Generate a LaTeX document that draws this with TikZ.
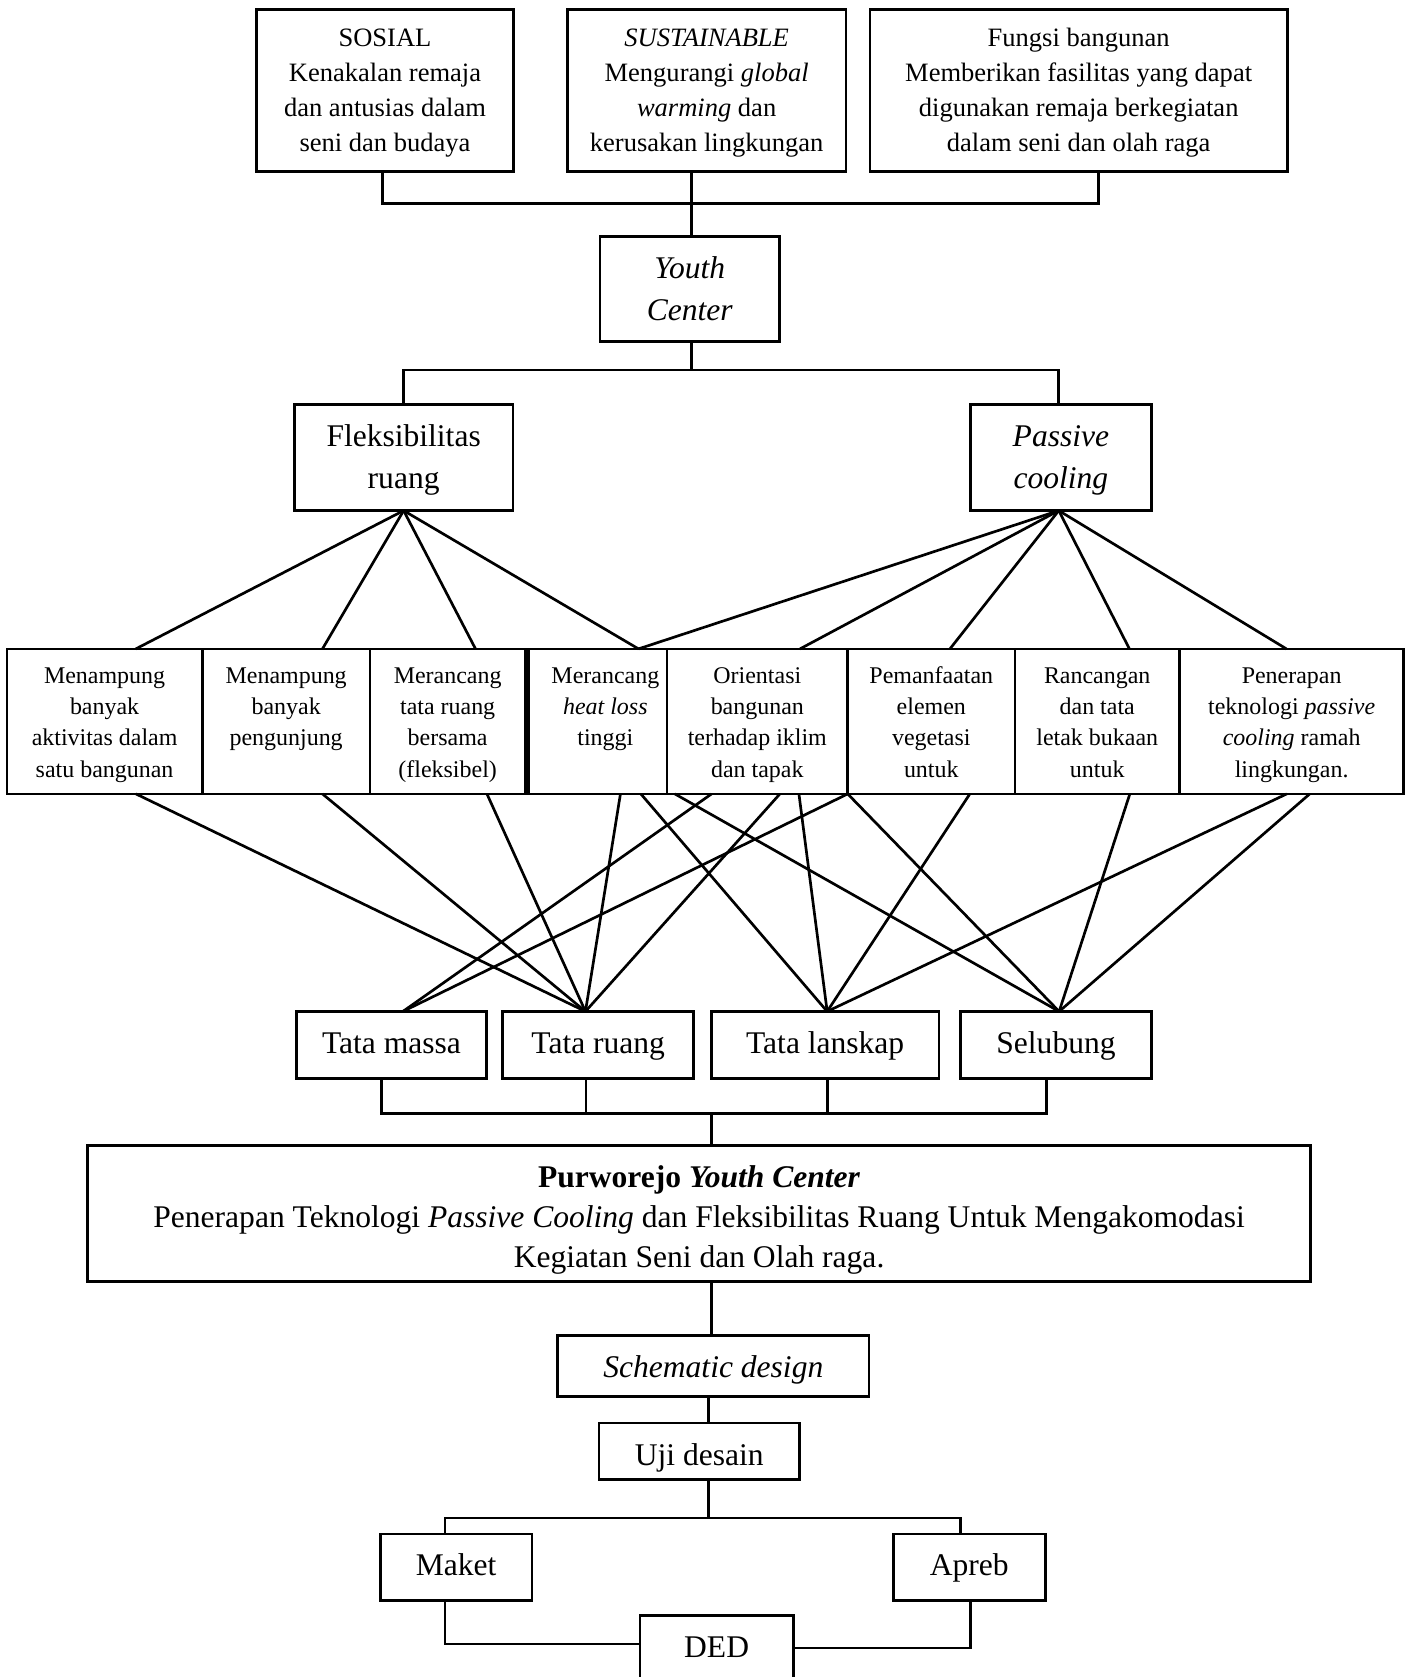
\documentclass[tikz,border=0pt]{standalone}
\usepackage{fontspec}
\setmainfont{Liberation Serif}
\usetikzlibrary{calc}
% width, height, font size, baselineskip, top space, content
\newcommand{\bxt}[6]{\parbox[c][#2][t]{#1}{\centering\fontsize{#3}{#4}\selectfont\vspace*{#5}\rule{0pt}{24pt}#6}}
\newcommand{\bxtr}[6]{\parbox[c][#2][t]{#1}{\centering\leftskip=14.3pt plus 1fil\fontsize{#3}{#4}\selectfont\vspace*{#5}\rule{0pt}{24pt}#6}}
\begin{document}
\begin{tikzpicture}[x=1pt,y=-1pt,
  bx/.style={draw,line width=2.5pt,inner sep=0pt,outer sep=0pt},
  ln/.style={line width=2.5pt}]
\useasboundingbox (0,0) rectangle (1321,1568);

% top row
\node[bx] (sos) at (359.95,84.6) {\bxt{239.9pt}{151.8pt}{24.8pt}{32.8pt}{10.5pt}{SOSIAL\\Kenakalan remaja\\dan antusias dalam\\seni dan budaya}};
\node[bx] (sus) at (660.7,84.6) {\bxt{260.6pt}{151.8pt}{24.8pt}{32.8pt}{10.5pt}{\textit{SUSTAINABLE}\\Mengurangi \textit{global}\\\textit{warming} dan\\kerusakan lingkungan}};
\node[bx] (fun) at (1008.55,84.6) {\bxt{390.5pt}{151.8pt}{24.8pt}{32.8pt}{10.5pt}{Fungsi bangunan\\Memberikan fasilitas yang dapat\\digunakan remaja berkegiatan\\dalam seni dan olah raga}};

\node[bx] (yc) at (645,270.35) {\bxt{168pt}{98.1pt}{29.5pt}{39pt}{15.3pt}{\textit{Youth}\\\textit{Center}}};

\node[bx] (fl) at (377.4,427.7) {\bxt{204.4pt}{99.4pt}{29.5pt}{39pt}{15.3pt}{Fleksibilitas\\ruang}};
\node[bx] (pc) at (991.95,427.7) {\bxt{169.1pt}{99.4pt}{29.5pt}{39pt}{15.3pt}{\textit{Passive}\\\textit{cooling}}};

% eight criteria
\node[bx] (b1) at (97.8,674.5) {\bxt{182.8pt}{135.6pt}{22.4pt}{29.3pt}{8.1pt}{Menampung\\banyak\\aktivitas dalam\\satu bangunan}};
\node[bx] (b2) at (267.55,674.5) {\bxt{156.7pt}{135.6pt}{22.4pt}{29.3pt}{8.1pt}{Menampung\\banyak\\pengunjung}};
\node[bx] (b3) at (418.55,674.5) {\bxt{145.3pt}{135.6pt}{22.4pt}{29.3pt}{8.1pt}{Merancang\\tata ruang\\bersama\\(fleksibel)}};
\node[bx] (b4) at (558.85,674.5) {\bxtr{129.5pt}{135.6pt}{22.4pt}{29.3pt}{8.1pt}{Merancang\\\textit{heat loss}\\tinggi}};
\node[bx] (b5) at (708.1,674.5) {\bxt{169pt}{135.6pt}{22.4pt}{29.3pt}{8.1pt}{Orientasi\\bangunan\\terhadap iklim\\dan tapak}};
\node[bx] (b6) at (870.75,674.5) {\bxt{156.3pt}{135.6pt}{22.4pt}{29.3pt}{8.1pt}{Pemanfaatan\\elemen\\vegetasi\\untuk}};
\node[bx] (b7) at (1025.9,674.5) {\bxt{154pt}{135.6pt}{22.4pt}{29.3pt}{8.1pt}{Rancangan\\dan tata\\letak bukaan\\untuk}};
\node[bx] (b8) at (1207.7,674.5) {\bxt{209.6pt}{135.6pt}{22.4pt}{29.3pt}{8.1pt}{Penerapan\\teknologi \textit{passive}\\\textit{cooling} ramah\\lingkungan.}};

% design aspects
\node[bx] (tm) at (366,977.2) {\bxt{178pt}{63pt}{29.5pt}{39pt}{15.6pt}{Tata massa}};
\node[bx] (tr) at (559.3,977.2) {\bxt{178.6pt}{63pt}{29.5pt}{39pt}{15.6pt}{Tata ruang}};
\node[bx] (tl) at (771.55,977.2) {\bxt{213.1pt}{63pt}{29.5pt}{39pt}{15.6pt}{Tata lanskap}};
\node[bx] (sel) at (987.35,977.2) {\bxt{178.5pt}{63pt}{29.5pt}{39pt}{15.6pt}{Selubung}};

\node[bx] (pw) at (653.65,1134.6) {\bxt{1143.3pt}{127.2pt}{29.5pt}{37.6pt}{15pt}{\textbf{Purworejo \textit{Youth Center}}\\Penerapan Teknologi \textit{Passive Cooling} dan Fleksibilitas Ruang Untuk Mengakomodasi\\Kegiatan Seni dan Olah raga.}};

\node[bx] (sd) at (666.95,1277.3) {\bxt{291.3pt}{56.8pt}{29.5pt}{39pt}{15.4pt}{\textit{Schematic design}}};
\node[bx] (uji) at (653.8,1357.1) {\bxt{187.4pt}{53pt}{29.5pt}{39pt}{15.4pt}{Uji desain}};
\node[bx] (mk) at (426.5,1465.55) {\bxt{141.8pt}{62.3pt}{29.5pt}{39pt}{15pt}{Maket}};
\node[bx] (ap) at (906.25,1465.55) {\bxt{142.3pt}{62.3pt}{29.5pt}{39pt}{15pt}{Apreb}};
\node[bx] (ded) at (670.05,1550.7) {\bxt{143.1pt}{80pt}{29.5pt}{39pt}{15.4pt}{DED}};

% helper levels
\coordinate (h1) at (0,190);
\coordinate (h2) at (0,346);
\coordinate (h3) at (0,1040.8);
\coordinate (h4) at (0,1419.4);

% top connectors
\draw[ln] ([xshift=-2.5pt]sos.south) |- ([xshift=18.3pt]fun.south |- h1) -- ([xshift=18.3pt]fun.south);
\draw[ln] ([xshift=1.6pt]sus.south -| yc.north) -- ([xshift=1.6pt]yc.north);
\draw[ln] ([xshift=1.6pt]yc.south) -- ([xshift=1.6pt]yc.south |- h2);
\draw[ln] (fl.north) |- ([xshift=-2pt]pc.north |- h2) -- ([xshift=-2pt]pc.north);

% fleksibilitas fan
\draw[ln] (fl.south) -- ([xshift=29.2pt]b1.north);
\draw[ln] (fl.south) -- ([xshift=33.95pt]b2.north);
\draw[ln] (fl.south) -- ([xshift=26.05pt]b3.north);
\draw[ln] (fl.south) -- ([xshift=38.15pt]b4.north);
% passive cooling fan
\coordinate (pcs) at ([xshift=-2pt]pc.south);
\draw[ln] (pcs) -- ([xshift=38.15pt]b4.north);
\draw[ln] (pcs) -- ([xshift=39.9pt]b5.north);
\draw[ln] (pcs) -- ([xshift=17.45pt]b6.north);
\draw[ln] (pcs) -- ([xshift=30.1pt]b7.north);
\draw[ln] (pcs) -- ([xshift=-4.9pt]b8.north);

% convergence points
\coordinate (tmN) at ([xshift=10.7pt]tm.north);
\coordinate (trN) at ([xshift=-11.9pt]tr.north);
\coordinate (tlN) at ([xshift=1.85pt]tl.north);
\coordinate (selN) at ([xshift=2.95pt]sel.north);

\draw[ln] ([xshift=29.3pt]b1.south) -- (trN);
\draw[ln] ([xshift=33.95pt]b2.south) -- (trN);
\draw[ln] ([xshift=36.75pt]b3.south) -- (trN);
\draw[ln] ([xshift=21.25pt]b4.south) -- (trN);
\draw[ln] ([xshift=40.35pt]b4.south) -- (tlN);
\draw[ln] ([xshift=-77.1pt]b5.south) -- (selN);
\draw[ln] ([xshift=-42.8pt]b5.south) -- (tmN);
\draw[ln] ([xshift=21.1pt]b5.south) -- (trN);
\draw[ln] ([xshift=38.9pt]b5.south) -- (tlN);
\draw[ln] (b5.south east) -- (tmN);
\draw[ln] (b5.south east) -- (selN);
\draw[ln] ([xshift=36.05pt]b6.south) -- (tlN);
\draw[ln] ([xshift=30.5pt]b7.south) -- (selN);
\draw[ln] ([xshift=-4.6pt]b8.south) -- (tlN);
\draw[ln] ([xshift=16.9pt]b8.south) -- (selN);

% bottom connectors
\draw[ln] ([xshift=-9.2pt]tm.south) |- ([xshift=-8.85pt]sel.south |- h3) -- ([xshift=-8.85pt]sel.south);
\draw[ln] ([xshift=-11.5pt]tr.south) -- ([xshift=-11.5pt]tr.south |- h3);
\draw[ln] ([xshift=1.85pt]tl.south) -- ([xshift=1.85pt]tl.south |- h3);
\draw[ln] ([xshift=11.65pt]pw.north |- h3) -- ([xshift=11.65pt]pw.north);
\draw[ln] ([xshift=11.65pt]pw.south) -- ([xshift=11.65pt]pw.south |- sd.north);
\draw[ln] ([xshift=-4.65pt]sd.south) -- ([xshift=-4.65pt]sd.south |- uji.north);
\draw[ln] ([xshift=8.5pt]uji.south) -- ([xshift=8.5pt]uji.south |- h4);
\draw[ln] ([xshift=-10.4pt]mk.north) |- ([xshift=-8.15pt]ap.north |- h4) -- ([xshift=-8.15pt]ap.north);
\draw[ln] ([xshift=-10.4pt]mk.south) |- ([yshift=13.5pt]ded.west);
\draw[ln] ([xshift=1.05pt]ap.south) |- ([yshift=9.7pt]ded.east);
\end{tikzpicture}
\end{document}
